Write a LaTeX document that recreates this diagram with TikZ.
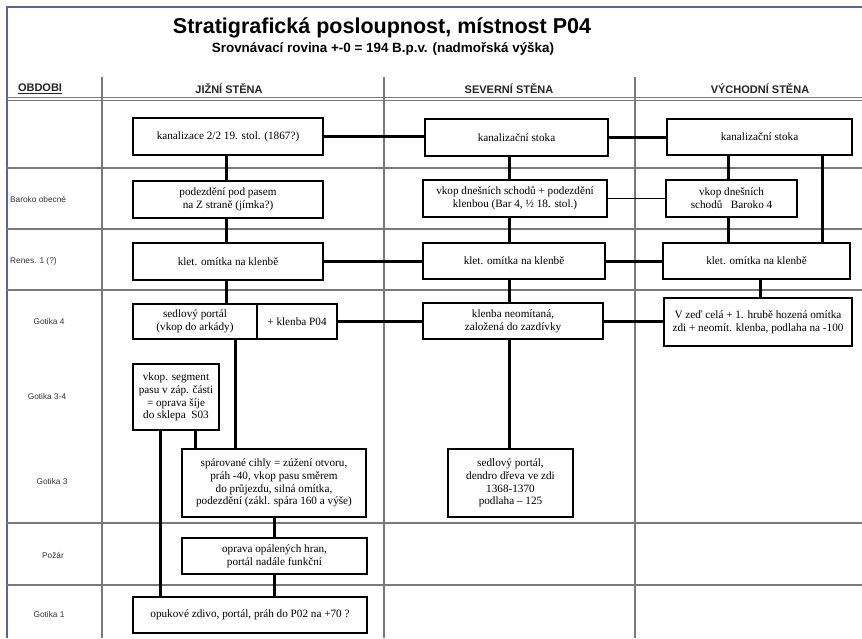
\documentclass[tikz,border=0pt]{standalone}
\usepackage{fontspec}
\setmainfont{Liberation Serif}
\setsansfont{Liberation Sans}
\definecolor{framecol}{HTML}{5E5EA0}
\definecolor{gridcol}{HTML}{7A7A7A}
\begin{document}
\begin{tikzpicture}[x=1pt,y=-1pt,
  gridline/.style={draw=gridcol,line width=1.2pt},
  frameline/.style={draw=framecol,line width=1.8pt},
  box/.style={draw=black,line width=2.6pt,fill=white,align=center,inner sep=1pt,
    font=\fontsize{11.2}{12.8}\selectfont},
  conn/.style={line width=3pt},
  thinconn/.style={line width=1.8pt},
  rowlab/.style={font=\sffamily\fontsize{8.3}{10}\selectfont,text=black!80,inner sep=0pt},
  colhead/.style={font=\sffamily\bfseries\fontsize{11}{13}\selectfont,text=black!85,inner sep=0pt}]
\useasboundingbox (0,0) rectangle (862,638);
\fill[white] (0,0) rectangle (862,638);
% frame
\draw[frameline] (7,638) -- (7,7) -- (862,7);
% header double line
\draw[gridline] (7,97.5) -- (862,97.5);
\draw[gridline] (7,100.5) -- (862,100.5);
% row lines
\foreach \yy in {168,229,290,523,585} \draw[gridline] (7,\yy) -- (862,\yy);
% column lines
\foreach \xx in {102,384,635} \draw[gridline] (\xx,77) -- (\xx,638);

% title
\node[font=\sffamily\bfseries\fontsize{21.5}{24}\selectfont,inner sep=0pt] (title) at (382,28) {Stratigrafická posloupnost, místnost P04};
\node[font=\sffamily\bfseries\fontsize{13.4}{15}\selectfont,inner sep=0pt] (subtitle) at (383,48.5) {Srovnávací rovina +-0 = 194 B.p.v. (nadmořská výška)};

% column headers
\node[colhead] (hobd) at (40,89) {\underline{OBDOBI}};
\node[colhead] (hjiz) at (229,89) {JIŽNÍ STĚNA};
\node[colhead] (hsev) at (509,89) {SEVERNÍ STĚNA};
\node[colhead] (hvych) at (760,89) {VÝCHODNÍ STĚNA};

% row labels
\node[rowlab,anchor=west] (rbar) at (10,199) {Baroko obecné};
\node[rowlab,anchor=west] (rren) at (10,261) {Renes. 1 (?)};
\node[rowlab] (rg4) at (49,322) {Gotika 4};
\node[rowlab] (rg34) at (47,397) {Gotika 3-4};
\node[rowlab] (rg3) at (52,482) {Gotika 3};
\node[rowlab] (rpoz) at (53,555) {Požár};
\node[rowlab] (rg1) at (49,615) {Gotika 1};

% south wall
\node[box,minimum width=190,minimum height=37] (b1) at (228,136.5) {kanalizace 2/2 19. stol. (1867?)};
\node[box,minimum width=190,minimum height=37] (b2) at (228,199.5) {podezdění pod pasem\\na Z straně (jímka?)};
\node[box,minimum width=190,minimum height=37] (b3) at (228,261.5) {klet. omítka na klenbě};
\node[box,minimum width=124,minimum height=35] (b4a) at (195,321.5) {sedlový portál\\(vkop do arkády)};
\node[box,minimum width=80,minimum height=35] (b4b) at (297,321.5) {+ klenba P04};
\node[box,minimum width=86,minimum height=66] (b5) at (176,397) {vkop. segment\\pasu v záp. části\\= oprava šíje\\do sklepa\ \ S03};
\node[box,minimum width=184,minimum height=68] (b6) at (274,483) {spárované cihly = zúžení otvoru,\\práh -40, vkop pasu směrem\\do průjezdu, silná omítka,\\podezdění (zákl. spára 160 a výše)};
\node[box,minimum width=185,minimum height=36] (b7) at (274.5,556) {oprava opálených hran,\\portál nadále funkční};
\node[box,minimum width=234,minimum height=36] (b8) at (250,615) {opukové zdivo, portál, práh do P02 na +70 ?};

% north wall
\node[box,minimum width=183,minimum height=37] (s1) at (516.5,137.5) {kanalizační stoka};
\node[box,minimum width=184,minimum height=37] (s2) at (515,198.5) {vkop dnešních schodů + podezdění\\klenbou (Bar 4, ½ 18. stol.)};
\node[box,minimum width=182,minimum height=36] (s3) at (514,261) {klet. omítka na klenbě};
\node[box,minimum width=180,minimum height=36] (s4) at (513,321) {klenba neomítaná,\\založená do zazdívky};
\node[box,minimum width=125,minimum height=68] (s5) at (510.5,483) {sedlový portál,\\dendro dřeva ve zdi\\1368-1370\\podlaha – 125};

% east wall
\node[box,minimum width=185,minimum height=36] (e1) at (759.5,137) {kanalizační stoka};
\node[box,minimum width=131,minimum height=37] (e2) at (731.5,198.5) {vkop dnešních\\schodů\ \ \ Baroko 4};
\node[box,minimum width=187,minimum height=36] (e3) at (756.5,261) {klet. omítka na klenbě};
\node[box,minimum width=188,minimum height=48] (e4) at (758,322) {V zeď celá + 1. hrubě hozená omítka\\zdi + neomít. klenba, podlaha na -100};

% connector x positions
\coordinate (xj) at (226,0);
\coordinate (xj2) at (235,0);
\coordinate (xk) at (160,0);
\coordinate (xl) at (195,0);
\coordinate (xm) at (274.5,0);
\coordinate (xs) at (509,0);
\coordinate (xe) at (728,0);
\coordinate (xf) at (822,0);
\coordinate (xg) at (760,0);

% south connectors
\draw[conn] (b1.south -| xj) -- (b2.north -| xj);
\draw[conn] (b2.south -| xj) -- (b3.north -| xj);
\draw[conn] (b3.south -| xj) -- (b4a.north -| xj);
\draw[conn] (b4a.south -| xj2) -- (b6.north -| xj2);
\draw[conn] (b5.south -| xl) -- (b6.north -| xl);
\draw[conn] (b5.south -| xk) -- (b8.north -| xk);
\draw[conn] (b6.south -| xm) -- (b7.north -| xm);
\draw[conn] (b7.south -| xm) -- (b8.north -| xm);
% horizontal
\draw[conn] (b1.east) -- (b1.east -| s1.west);
\draw[conn] (b3.east) -- (b3.east -| s3.west);
\draw[conn] (b4b.east) -- (b4b.east -| s4.west);
% north connectors
\draw[conn] (s1.south -| xs) -- (s2.north -| xs);
\draw[conn] (s2.south -| xs) -- (s3.north -| xs);
\draw[conn] (s3.south -| xs) -- (s4.north -| xs);
\draw[conn] (s4.south -| xs) -- (s5.north -| xs);
\draw[conn] (s1.east) -- (s1.east -| e1.west);
\draw[thinconn] (s2.east) -- (s2.east -| e2.west);
\draw[conn] (s3.east) -- (s3.east -| e3.west);
\draw[conn] (s4.east) -- (s4.east -| e4.west);
% east connectors
\draw[conn] (e1.south -| xe) -- (e2.north -| xe);
\draw[conn] (e2.south -| xe) -- (e3.north -| xe);
\draw[conn] (e1.south -| xf) -- (e3.north -| xf);
\draw[conn] (e3.south -| xg) -- (e4.north -| xg);
\end{tikzpicture}
\end{document}
